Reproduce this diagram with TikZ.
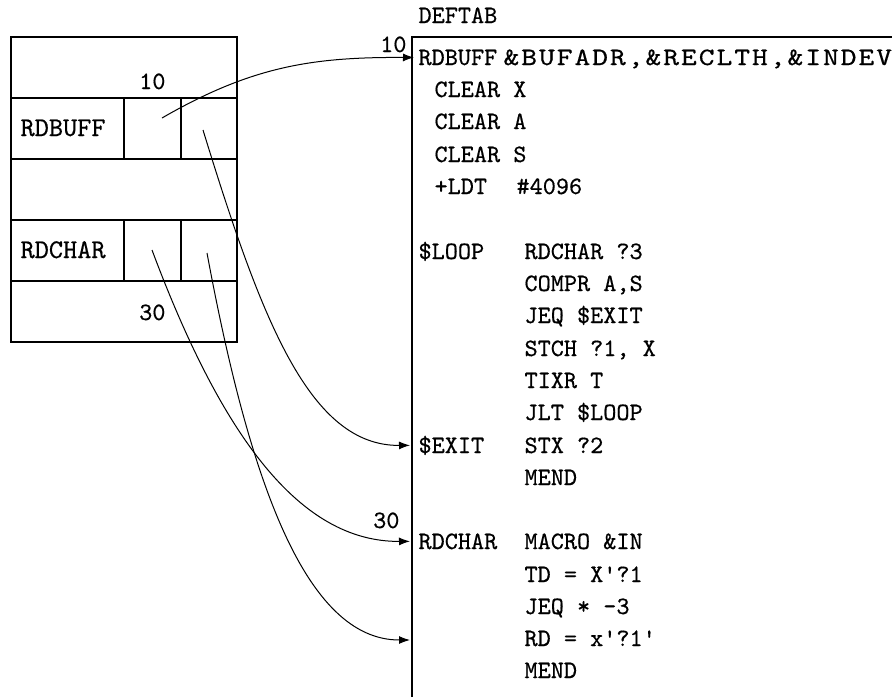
\documentclass[tikz,border=0pt]{standalone}
\usepackage{fontspec}
\setmonofont[FakeBold=0.5]{lmmono10-regular.otf}
\usetikzlibrary{arrows.meta}

\begin{document}
\begin{tikzpicture}[x=1pt, y=-1pt, line width=1.1pt,
  code/.style={anchor=base west, inner sep=0pt, font=\ttfamily\fontsize{25}{30}\selectfont},
  label/.style={code, font=\ttfamily\fontsize{27}{32}\selectfont},
  link/.style={-{Latex[length=11pt,width=8pt]}, line width=1pt}]
  \useasboundingbox (0,0) rectangle (892,697);

  % ----- Left Side: Name Table -----
  \draw (11,37) rectangle (237,342);
  \draw (11,98) -- (237,98);
  \draw (11,159) -- (237,159);
  \draw (11,220) -- (237,220);
  \draw (11,281) -- (237,281);
  \draw (124,98) -- (124,159);
  \draw (181,98) -- (181,159);
  \draw (124,220) -- (124,281);
  \draw (181,220) -- (181,281);

  \node[code, anchor=base east] (tabten) at (166,89) {10};
  \node[label] (tabbuff) at (20,136) {RDBUFF};
  \node[label] (tabchar) at (20,258) {RDCHAR};
  \node[code, anchor=base east] (tabthirty) at (166,320) {30};

  % pointer fields in the table
  \coordinate (buffdef) at (162,118);
  \coordinate (buffexit) at (203,130);
  \coordinate (chardef) at (152,250);
  \coordinate (charjump) at (207,253);

  % ----- Right Side: Definition Table -----
  \node[code] (deftab) at (418,23) {DEFTAB};
  \draw (412,697) -- (412,37) -- (892,37);

  \node[code, anchor=base east] (lineten) at (407,52) {10};
  \node[code] (rdbuff) at (418,65) {RDBUFF};
  \node[code] (rdbuffargs) at (503,65) {\addfontfeature{FakeStretch=1.2,LetterSpace=8}\&BUFADR,\&RECLTH,\&INDEV};
  \node[code] (clearx) at (434,97) {CLEAR X};
  \node[code] (cleara) at (434,129) {CLEAR A};
  \node[code] (clears) at (434,162) {CLEAR S};
  \node[code] (ldt) at (434,194) {+LDT};
  \node[code] (ldtval) at (516,194) {\#4096};

  \node[code] (loop) at (418,259) {\$LOOP};
  \node[code] (callchar) at (524,259) {RDCHAR ?3};
  \node[code] (compr) at (524,291) {COMPR A,S};
  \node[code] (jeqexit) at (524,323) {JEQ \$EXIT};
  \node[code] (stch) at (524,356) {STCH ?1, X};
  \node[code] (tixr) at (524,388) {TIXR T};
  \node[code] (jlt) at (524,420) {JLT \$LOOP};
  \node[code] (exit) at (418,453) {\$EXIT};
  \node[code] (stx) at (524,453) {STX ?2};
  \node[code] (mendbuff) at (524,485) {MEND};

  \node[code, anchor=base east] (linethirty) at (400,528) {30};
  \node[code] (rdchar) at (418,549) {RDCHAR};
  \node[code] (macro) at (524,549) {MACRO \&IN};
  \node[code] (td) at (524,582) {TD = X'?1};
  \node[code] (jeqstar) at (524,614) {JEQ * –3};
  \node[code] (rd) at (524,646) {RD = x'?1'};
  \node[code] (mendchar) at (524,678) {MEND};

  \coordinate (rdin) at (410,640);

  % ----- Pointers -----
  \draw[link] (buffdef) .. controls (252,66) and (313,57) .. ([xshift=-4pt]rdbuff.west);
  \draw[link] (buffexit) .. controls (262,322) and (310,446) .. ([xshift=-8pt]exit.west);
  \draw[link] (chardef) .. controls (222,437) and (300,542) .. ([xshift=-8pt]rdchar.west);
  \draw[link] (charjump) .. controls (249,479) and (305,640) .. (rdin);
\end{tikzpicture}
\end{document}
